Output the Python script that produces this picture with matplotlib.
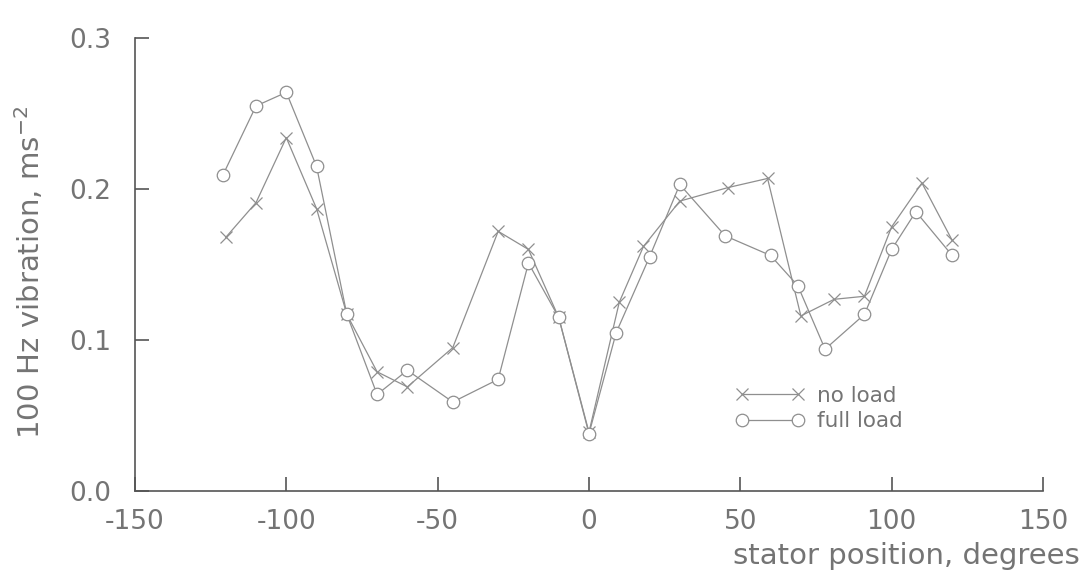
import numpy as np
import matplotlib
matplotlib.use('Agg')
import matplotlib.pyplot as plt

# stator position (degrees) and 100 Hz vibration (m s^-2)
pos_no = [-120, -110, -100, -90, -80, -70, -60, -45, -30, -20, -10, 0,
          10, 18, 30, 46, 59, 70, 81, 91, 100, 110, 120]
vib_no = [0.168, 0.191, 0.234, 0.187, 0.117, 0.079, 0.069, 0.095, 0.172, 0.160, 0.115, 0.039,
          0.125, 0.162, 0.192, 0.201, 0.207, 0.116, 0.127, 0.129, 0.175, 0.204, 0.166]

pos_full = [-121, -110, -100, -90, -80, -70, -60, -45, -30, -20, -10, 0,
            9, 20, 30, 45, 60, 69, 78, 91, 100, 108, 120]
vib_full = [0.209, 0.255, 0.264, 0.215, 0.117, 0.064, 0.080, 0.059, 0.074, 0.151, 0.115, 0.038,
            0.105, 0.155, 0.203, 0.169, 0.156, 0.136, 0.094, 0.117, 0.160, 0.185, 0.156]

xticks = [-150, -100, -50, 0, 50, 100, 150]
yticks = [0.0, 0.1, 0.2, 0.3]

grey = '#8f8f8f'
txt = '#747474'
plt.rcParams['font.family'] = ['DejaVu Sans']
plt.rcParams['axes.unicode_minus'] = False

fig = plt.figure(figsize=(10.91, 5.84), dpi=100)
ax = fig.add_axes([0.1237, 0.159, 0.8323, 0.776])

ax.plot(pos_no, vib_no, color=grey, linewidth=0.9, marker='x', markersize=8,
        markeredgewidth=0.9, label='no load')
ax.plot(pos_full, vib_full, color=grey, linewidth=0.9, marker='o', markersize=9,
        markerfacecolor='white', markeredgecolor=grey, markeredgewidth=0.9, label='full load')

ax.set_xlim(-150, 150)
ax.set_ylim(0, 0.3)
ax.set_xticks(xticks)
ax.set_yticks(yticks)
ax.set_yticklabels(['%.1f' % v for v in yticks])
ax.spines['top'].set_visible(False)
ax.spines['right'].set_visible(False)
for s in ['left', 'bottom']:
    ax.spines[s].set_color('#555555')
    ax.spines[s].set_linewidth(1.2)
ax.tick_params(direction='in', length=10, width=1.2, color='#555555',
               labelsize=19, labelcolor=txt)
ax.tick_params(axis='x', pad=13)
ax.tick_params(axis='y', pad=17)

ax.set_ylabel('100 Hz vibration, ms$^{-2}$', fontsize=21, color=txt)
ax.yaxis.set_label_coords(-0.098, 0.483)
ax.text(1.04, -0.113, 'stator position, degrees', transform=ax.transAxes,
        ha='right', va='top', fontsize=21, color=txt)

leg = ax.legend(loc='upper left', bbox_to_anchor=(0.64, 0.275), frameon=False,
                numpoints=2, handlelength=3.2, fontsize=15.5, labelspacing=0.25,
                handletextpad=0.6)
for t in leg.get_texts():
    t.set_color(txt)

fig.savefig('out.png', dpi=100)
